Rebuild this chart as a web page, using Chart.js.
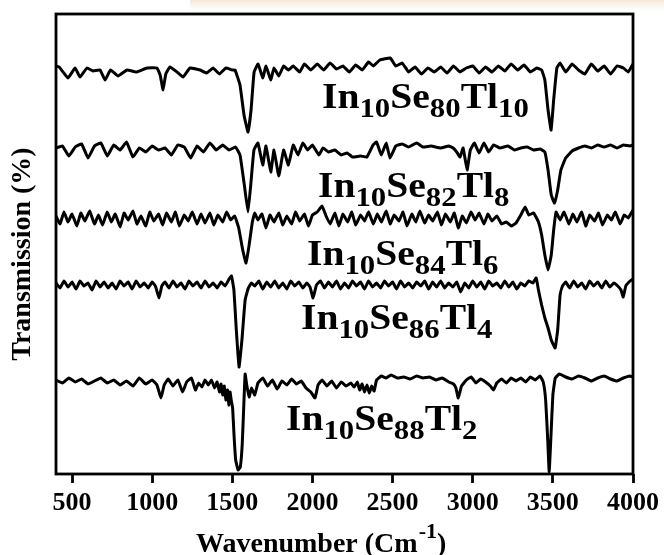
<!DOCTYPE html>
<html><head><meta charset="utf-8">
<script src="https://cdn.jsdelivr.net/npm/chart.js@4.4.1/dist/chart.umd.min.js"></script>
<style>html,body{margin:0;padding:0;background:#fff;}canvas{display:block;}</style>
</head><body>
<canvas id="c" width="664" height="555"></canvas>
<script>
// Sample compositions In10 Se(x) Tl(y)
const inContent = 10;
const seContent = [80, 82, 84, 86, 88];
const tlContent = [10, 8, 6, 4, 2];
const xTickValues = [500, 1000, 1500, 2000, 2500, 3000, 3500, 4000];
const xTitle = 'Wavenumber (Cm';
const xTitleSup = '-1';
const yTitle = 'Transmission (%)';

// Offset transmission spectra, [wavenumber (cm^-1), transmission (a.u., stacked)]
const specTl10 = [[400,408],[420,407],[475,396],[519,406],[550,397],[593,406],[631,403],[675,404],[706,394],[740,404],[787,398],[843,404],[900,402],[968,406],[1030,406],[1050,399],[1068,384],[1085,400],[1111,407],[1155,402],[1193,397],[1236,406],[1299,404],[1340,401],[1380,406],[1420,400],[1460,406],[1500,404],[1517,404],[1548,389],[1573,359],[1598,342],[1617,364],[1636,402],[1661,410],[1690,396],[1710,408],[1740,394],[1760,406],[1790,398],[1820,408],[1850,404],[1880,408],[1920,402],[1950,410],[1990,404],[2030,410],[2070,404],[2110,411],[2150,405],[2190,408],[2230,402],[2270,409],[2310,404],[2350,412],[2380,408],[2420,414],[2485,416],[2520,408],[2560,411],[2600,402],[2640,407],[2680,400],[2720,406],[2760,402],[2800,407],[2840,401],[2880,408],[2920,402],[2960,406],[3000,408],[3040,401],[3080,407],[3120,402],[3160,408],[3200,403],[3240,410],[3280,404],[3320,409],[3360,402],[3400,406],[3430,404],[3450,394],[3470,364],[3489,344],[3505,374],[3525,406],[3545,411],[3580,402],[3620,410],[3660,404],[3700,400],[3740,410],[3780,403],[3820,408],[3860,400],[3900,408],[3940,406],[3970,402],[4000,410]];
const specTl8 = [[400,326],[440,328],[480,318],[520,327],[560,330],[600,316],[640,328],[680,331],[720,318],[760,329],[800,324],[840,332],[880,317],[920,326],[960,322],[1000,328],[1040,324],[1080,326],[1120,319],[1160,329],[1200,327],[1240,316],[1280,328],[1320,322],[1360,331],[1400,324],[1440,329],[1480,324],[1520,327],[1548,319],[1575,289],[1598,262],[1615,289],[1635,324],[1660,331],[1690,309],[1710,328],[1740,302],[1760,324],[1790,298],[1820,324],[1850,309],[1880,329],[1910,319],[1940,331],[1970,324],[2000,329],[2040,319],[2066,326],[2100,322],[2140,324],[2180,319],[2216,321],[2250,317],[2300,318],[2340,317],[2378,329],[2400,332],[2430,319],[2460,331],[2484,316],[2520,328],[2560,330],[2600,327],[2650,331],[2690,327],[2740,328],[2800,326],[2850,328],[2878,326],[2900,322],[2921,317],[2940,326],[2965,304],[2985,324],[3010,331],[3040,321],[3070,331],[3100,322],[3130,329],[3170,326],[3220,328],[3260,324],[3300,326],[3340,327],[3380,324],[3420,325],[3450,322],[3470,304],[3490,279],[3510,271],[3530,284],[3550,304],[3580,316],[3620,323],[3660,326],[3700,328],[3740,326],[3780,329],[3820,327],[3860,329],[3900,326],[3940,329],[3980,328],[4000,329]];
const specTl6 = [[400,258],[425,250],[450,262],[475,252],[500,260],[530,248],[555,261],[580,253],[610,263],[640,250],[665,259],[690,249],[720,262],[745,252],[770,260],[800,247],[825,261],[850,254],[880,263],[905,250],[930,258],[960,248],[985,262],[1010,253],[1040,260],[1065,249],[1090,261],[1120,252],[1145,262],[1170,248],[1200,259],[1225,253],[1250,262],[1280,250],[1305,260],[1330,251],[1360,261],[1385,249],[1410,259],[1440,252],[1465,262],[1490,254],[1515,258],[1540,246],[1565,224],[1586,211],[1605,229],[1625,252],[1640,261],[1660,254],[1685,260],[1710,246],[1735,259],[1760,252],[1790,261],[1815,249],[1840,258],[1870,250],[1895,262],[1920,253],[1950,260],[1975,248],[2000,259],[2030,262],[2060,268],[2085,258],[2110,250],[2140,261],[2165,248],[2190,260],[2220,252],[2245,262],[2270,249],[2300,259],[2325,253],[2350,262],[2380,250],[2405,260],[2430,252],[2460,263],[2485,250],[2510,259],[2540,253],[2565,262],[2590,248],[2620,260],[2645,252],[2670,263],[2700,251],[2725,259],[2750,253],[2780,262],[2805,249],[2830,260],[2860,252],[2885,261],[2910,246],[2935,258],[2960,251],[2990,262],[3015,254],[3040,261],[3070,250],[3095,260],[3120,253],[3150,258],[3180,250],[3210,252],[3240,248],[3270,251],[3300,259],[3327,267],[3350,259],[3380,261],[3410,252],[3430,239],[3450,219],[3470,204],[3490,219],[3505,244],[3520,262],[3545,254],[3570,262],[3600,250],[3625,260],[3650,252],[3680,262],[3705,248],[3730,259],[3760,253],[3785,261],[3810,249],[3840,259],[3865,254],[3890,262],[3920,250],[3945,259],[3970,256],[4000,264]];
const specTl4 = [[400,191],[425,186],[450,193],[475,187],[500,192],[525,185],[550,193],[575,188],[600,191],[625,184],[650,193],[675,187],[700,192],[725,186],[750,191],[775,185],[800,193],[825,188],[850,192],[875,185],[900,193],[925,187],[950,191],[975,186],[1000,192],[1020,188],[1043,176],[1060,188],[1080,192],[1105,186],[1130,193],[1155,187],[1180,191],[1205,185],[1230,193],[1255,188],[1280,192],[1305,186],[1330,193],[1355,187],[1380,191],[1405,186],[1430,192],[1455,188],[1480,195],[1495,198],[1510,184],[1525,144],[1542,107],[1560,134],[1580,174],[1600,186],[1620,191],[1640,188],[1665,193],[1690,185],[1715,192],[1740,187],[1765,193],[1790,186],[1815,191],[1840,185],[1865,193],[1890,188],[1915,192],[1940,186],[1965,191],[1985,187],[2004,176],[2025,189],[2050,193],[2075,186],[2100,192],[2125,187],[2150,193],[2175,185],[2200,191],[2225,186],[2250,193],[2275,188],[2300,192],[2325,185],[2350,193],[2375,187],[2400,191],[2425,186],[2450,193],[2475,188],[2500,192],[2525,185],[2550,193],[2575,187],[2600,191],[2625,186],[2650,192],[2675,188],[2700,193],[2725,185],[2750,192],[2775,187],[2800,193],[2825,186],[2850,191],[2875,187],[2900,192],[2925,182],[2950,191],[2975,186],[3000,193],[3025,187],[3050,192],[3075,185],[3100,193],[3125,188],[3150,191],[3175,186],[3200,193],[3225,187],[3250,192],[3275,185],[3300,191],[3325,188],[3350,193],[3375,191],[3396,196],[3410,184],[3430,169],[3450,156],[3470,146],[3490,134],[3514,126],[3530,144],[3545,179],[3560,188],[3580,192],[3605,186],[3630,193],[3655,187],[3680,191],[3705,185],[3730,193],[3755,188],[3780,192],[3805,186],[3830,193],[3855,187],[3880,191],[3905,188],[3925,184],[3939,177],[3955,188],[3975,192],[4000,195]];
const specTl2 = [[400,94],[440,91],[480,96],[520,92],[560,95],[600,90],[640,93],[680,96],[720,91],[760,94],[800,89],[840,93],[880,88],[920,96],[960,90],[1000,94],[1030,89],[1055,76],[1075,89],[1100,95],[1130,88],[1160,94],[1190,82],[1215,92],[1245,96],[1270,84],[1290,91],[1310,87],[1330,94],[1350,89],[1370,94],[1390,86],[1405,92],[1420,82],[1430,90],[1440,79],[1450,88],[1460,74],[1470,84],[1478,69],[1486,82],[1493,74],[1502,66],[1511,38],[1521,14],[1536,4],[1550,7],[1562,30],[1572,70],[1580,100],[1590,89],[1605,77],[1620,86],[1640,79],[1660,91],[1690,96],[1720,88],[1750,94],[1780,85],[1810,93],[1840,89],[1870,95],[1900,90],[1930,93],[1960,86],[1990,82],[2016,76],[2035,89],[2060,94],[2090,88],[2120,93],[2150,86],[2180,92],[2210,88],[2240,91],[2260,87],[2280,92],[2295,84],[2310,90],[2325,82],[2340,89],[2355,81],[2370,88],[2385,83],[2400,94],[2430,98],[2460,96],[2490,99],[2530,96],[2570,97],[2610,95],[2650,98],[2690,96],[2730,97],[2770,94],[2810,96],[2850,92],[2880,90],[2895,86],[2910,76],[2930,88],[2960,94],[2990,97],[3020,91],[3050,95],[3080,92],[3110,88],[3130,84],[3150,91],[3180,95],[3210,91],[3240,96],[3270,93],[3300,96],[3330,92],[3360,97],[3390,94],[3420,98],[3440,92],[3455,74],[3468,34],[3477,2],[3487,34],[3500,79],[3515,96],[3540,100],[3580,97],[3620,95],[3660,98],[3700,96],[3740,93],[3780,96],[3820,98],[3860,95],[3900,93],[3940,96],[3980,98],[4000,97]];
const spectra = [specTl10, specTl8, specTl6, specTl4, specTl2];

const SERIF = '"Liberation Serif", "Times New Roman", serif';

const decorPlugin = {
  id: 'decor',
  beforeDraw(chart) {
    const ctx = chart.ctx;
    ctx.save();
    const g = ctx.createLinearGradient(0, 0, 0, 14);
    g.addColorStop(0, 'rgba(232,200,160,0.45)');
    g.addColorStop(1, 'rgba(255,255,255,0)');
    ctx.fillStyle = g;
    ctx.fillRect(190, 0, 474, 14);
    ctx.restore();
  },
  afterDraw(chart) {
    const ctx = chart.ctx;
    const a = chart.chartArea;
    ctx.save();
    ctx.strokeStyle = '#000';
    ctx.lineWidth = 2.8;
    ctx.strokeRect(a.left, a.top, a.right - a.left, a.bottom - a.top);

    // sample labels
    const anchors = [[322,108],[318,197],[307,265],[301,329],[286,430]];
    ctx.fillStyle = '#000';
    ctx.textBaseline = 'alphabetic';
    ctx.textAlign = 'left';
    seContent.forEach((se, i) => {
      const parts = [['In',0],[String(inContent),1],['Se',0],[String(se),1],['Tl',0],[String(tlContent[i]),1]];
      ctx.save();
      ctx.translate(anchors[i][0], anchors[i][1]);
      ctx.scale(1.1, 1);
      let cx = 0;
      parts.forEach(([t, sub]) => {
        ctx.font = 'bold ' + (sub ? 28 : 36) + 'px ' + SERIF;
        ctx.fillText(t, cx, sub ? 8.5 : 0);
        cx += ctx.measureText(t).width;
      });
      ctx.restore();
    });

    // y title
    ctx.save();
    ctx.translate(23, 254);
    ctx.rotate(-Math.PI / 2);
    ctx.textAlign = 'center';
    ctx.textBaseline = 'middle';
    ctx.font = 'bold 28px ' + SERIF;
    ctx.fillText(yTitle, 0, 0);
    ctx.restore();

    // x title
    ctx.textAlign = 'left';
    ctx.textBaseline = 'alphabetic';
    let x = 196;
    ctx.font = 'bold 28px ' + SERIF;
    ctx.fillText(xTitle, x, 552);
    x += ctx.measureText(xTitle).width;
    ctx.font = 'bold 22px ' + SERIF;
    ctx.fillText(xTitleSup, x + 1, 538);
    x += ctx.measureText(xTitleSup).width + 1;
    ctx.font = 'bold 28px ' + SERIF;
    ctx.fillText(')', x, 552);
    ctx.restore();
  }
};

new Chart(document.getElementById('c'), {
  type: 'line',
  data: {
    datasets: spectra.map((d, i) => ({
      label: 'In' + inContent + 'Se' + seContent[i] + 'Tl' + tlContent[i],
      data: d,
      borderColor: '#000',
      borderWidth: 3,
      pointRadius: 0,
      tension: 0.1,
      borderJoinStyle: 'round',
      fill: false
    }))
  },
  options: {
    responsive: false,
    animation: false,
    events: [],
    layout: { padding: { left: 56, top: 14, right: 30, bottom: 0 } },
    plugins: { legend: { display: false }, tooltip: { enabled: false } },
    scales: {
      x: {
        type: 'linear',
        position: 'bottom',
        min: 400,
        max: 4000,
        afterBuildTicks: (s) => { s.ticks = xTickValues.map(v => ({ value: v })); },
        afterFit: (s) => { s.height = 81; },
        ticks: {
          color: '#000',
          font: { family: SERIF, size: 26, weight: 'bold' },
          padding: 5,
          maxRotation: 0,
          autoSkip: false,
          callback: (v) => String(v)
        },
        grid: {
          drawOnChartArea: false,
          drawTicks: true,
          tickLength: 9,
          tickWidth: 2.8,
          tickColor: '#000'
        },
        border: { display: false }
      },
      y: {
        type: 'linear',
        display: false,
        min: 0,
        max: 460
      }
    }
  },
  plugins: [decorPlugin]
});
</script>
</body></html>
